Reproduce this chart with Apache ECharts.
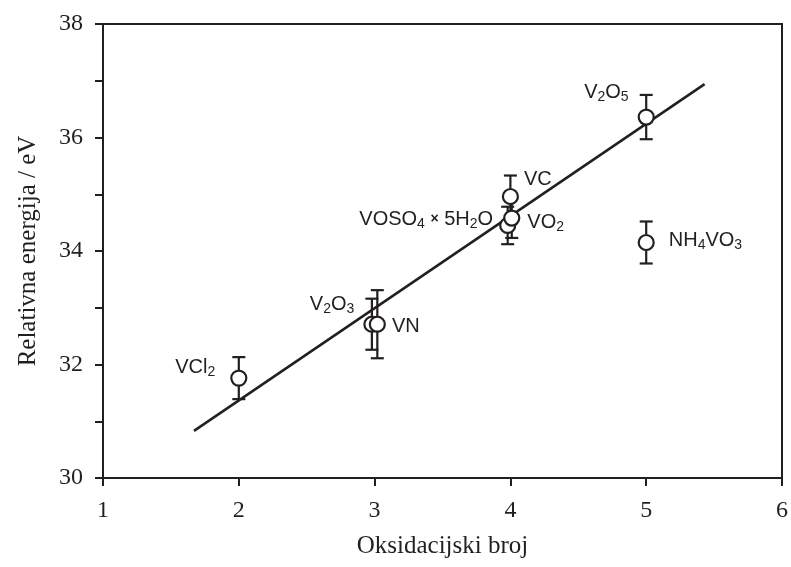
<!DOCTYPE html>
<html>
<head>
<meta charset="UTF-8">
<title>Oksidacijski broj</title>
<script src="https://cdn.jsdelivr.net/npm/echarts@6/dist/echarts.min.js"></script>
<style>
html,body{margin:0;padding:0;background:#fff;}
#chart{width:791px;height:567px;}
</style>
</head>
<body>
<div id="chart"></div>
<script type="text/javascript">
// podaci ocitani sa slike
var compounds = ['VCl2', 'V2O3', 'VN', 'VOSO4 x 5H2O', 'VO2', 'VC', 'V2O5', 'NH4VO3'];
var labelText = ['VCl{s|2}', 'V{s|2}O{s|3}', 'VN', 'VOSO{s|4} {x|×} 5H{s|2}O', 'VO{s|2}', 'VC', 'V{s|2}O{s|5}', 'NH{s|4}VO{s|3}'];
var oxState = [2.00, 2.98, 3.02, 3.98, 4.01, 4.00, 5.00, 5.00];
var energy = [31.76, 32.71, 32.71, 34.45, 34.58, 34.96, 36.36, 34.15];
var errBar = [0.37, 0.45, 0.60, 0.33, 0.35, 0.37, 0.39, 0.37];
var fitX = [1.67, 5.43];
var fitY = [30.83, 36.94];

var ink = '#231f20';
var serif = '"Liberation Serif", "DejaVu Serif", serif';
var sans = '"Liberation Sans", Arial, sans-serif';

// gdje stoji oznaka u odnosu na kruzic
var labelPlace = {
	'VCl2': {position: 'left', offset: [-10, -11]},
	'V2O3': {position: 'left', offset: [-4, -20]},
	'VN': {position: 'right', offset: [1, 2]},
	'VOSO4 x 5H2O': {position: 'left', offset: [-1, -6]},
	'VO2': {position: 'right', offset: [2, 4]},
	'VC': {position: 'right', offset: [0, -17]},
	'V2O5': {position: 'left', offset: [-4, -25]},
	'NH4VO3': {position: 'right', offset: [9, -2]}
};

var richStyle = {
	s: {fontSize: 14, fontFamily: sans, color: ink, padding: [10, 0, 0, 0], verticalAlign: 'top', lineHeight: 14},
	x: {fontSize: 14, fontFamily: sans, color: ink, fontWeight: 'bold', verticalAlign: 'top', padding: [5, 0, 0, 0], lineHeight: 14}
};

var pointData = [];
var errData = [];
for (var i = 0; i < compounds.length; i++) {
	var p = labelPlace[compounds[i]];
	pointData.push({
		name: compounds[i],
		value: [oxState[i], energy[i]],
		label: {
			show: true,
			position: p.position,
			offset: p.offset,
			distance: 5,
			formatter: labelText[i],
			fontSize: 20,
			fontFamily: sans,
			color: ink,
			lineHeight: 24,
			rich: richStyle
		}
	});
	errData.push([oxState[i], energy[i], errBar[i]]);
}

var mychart = echarts.init(document.getElementById('chart'));
var option = {
	animation: false,
	backgroundColor: '#fff',
	grid: {
		left: 103, right: 5, top: 24, bottom: 89,
		show: true, borderColor: ink, borderWidth: 2, backgroundColor: 'transparent'
	},
	xAxis: {
		type: 'value', min: 1, max: 6, interval: 1,
		name: 'Oksidacijski broj', nameLocation: 'middle', nameGap: 56,
		nameTextStyle: {fontFamily: serif, fontSize: 25, color: ink},
		axisLine: {lineStyle: {color: ink, width: 2}},
		axisTick: {inside: false, length: 8, lineStyle: {color: ink, width: 2}},
		axisLabel: {fontFamily: serif, fontSize: 24, color: ink, margin: 21},
		splitLine: {show: false}
	},
	yAxis: {
		type: 'value', min: 30, max: 38, interval: 2,
		name: 'Relativna energija / eV', nameLocation: 'middle', nameGap: 62,
		nameTextStyle: {fontFamily: serif, fontSize: 25, color: ink},
		axisLine: {lineStyle: {color: ink, width: 2}},
		axisTick: {inside: false, length: 8, lineStyle: {color: ink, width: 2}},
		minorTick: {show: true, splitNumber: 2, length: 8, lineStyle: {color: ink, width: 2}},
		axisLabel: {fontFamily: serif, fontSize: 24, color: ink, margin: 20},
		splitLine: {show: false}
	},
	series: [
		{
			type: 'line',
			data: [[fitX[0], fitY[0]], [fitX[1], fitY[1]]],
			symbol: 'none',
			lineStyle: {color: ink, width: 2.5},
			emphasis: {disabled: true},
			z: 2
		},
		{
			type: 'custom',
			data: errData,
			z: 3,
			renderItem: function (params, api) {
				var x = api.value(0), y = api.value(1), e = api.value(2);
				var top = api.coord([x, y + e]);
				var bot = api.coord([x, y - e]);
				var w = 6.5;
				var st = {stroke: ink, lineWidth: 2.2};
				return {
					type: 'group',
					children: [
						{type: 'line', shape: {x1: top[0], y1: top[1], x2: bot[0], y2: bot[1]}, style: st},
						{type: 'line', shape: {x1: top[0] - w, y1: top[1], x2: top[0] + w, y2: top[1]}, style: st},
						{type: 'line', shape: {x1: bot[0] - w, y1: bot[1], x2: bot[0] + w, y2: bot[1]}, style: st}
					]
				};
			}
		},
		{
			type: 'scatter',
			data: pointData,
			symbol: 'circle',
			symbolSize: 15,
			itemStyle: {color: '#fff', borderColor: ink, borderWidth: 2.2, opacity: 1},
			emphasis: {disabled: true},
			z: 4
		}
	]
};
mychart.setOption(option);
</script>
</body>
</html>
